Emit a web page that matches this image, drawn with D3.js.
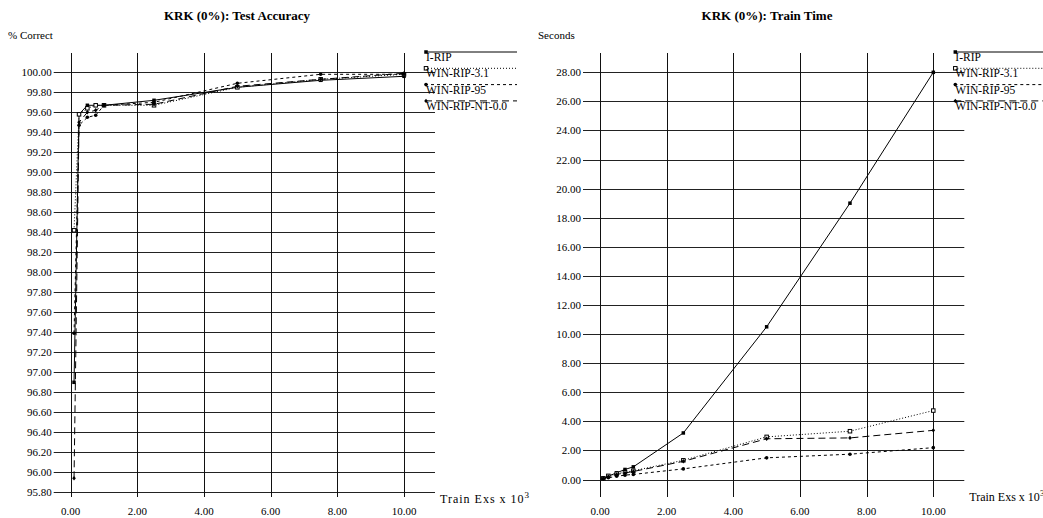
<!DOCTYPE html>
<html>
<head>
<meta charset="utf-8">
<script src="https://cdn.jsdelivr.net/npm/d3@7"></script>
<style>
  body { margin: 0; background: #fff; }
  svg text { font-family: "Liberation Serif", "Times New Roman", serif; fill: #000; }
</style>
</head>
<body>
<div id="chart"></div>
<script>
// training set sizes (x 10^3)
const trainSizes = [0.1, 0.25, 0.5, 0.75, 1.0, 2.5, 5.0, 7.5, 10.0];
const seriesNames = ["I-RIP", "WIN-RIP-3.1", "WIN-RIP-95", "WIN-RIP-NT-0.0"];

// % correct
const accIRip = [96.90, 99.58, 99.67, 99.67, 99.67, 99.72, 99.85, 99.92, 99.96];
const accWin31 = [98.42, 99.58, 99.64, 99.67, 99.67, 99.67, 99.85, 99.93, 99.98];
const accWin95 = [97.39, 99.47, 99.55, 99.57, 99.67, 99.70, 99.89, 99.98, 99.98];
const accWinNT = [95.94, 99.50, 99.60, 99.62, 99.67, 99.68, 99.86, 99.93, 99.99];

// train time in seconds
const timeIRip = [0.09, 0.23, 0.46, 0.69, 0.87, 3.20, 10.50, 19.00, 28.00];
const timeWin31 = [0.08, 0.25, 0.40, 0.50, 0.60, 1.32, 2.93, 3.32, 4.74];
const timeWin95 = [0.05, 0.12, 0.22, 0.30, 0.35, 0.73, 1.49, 1.74, 2.19];
const timeWinNT = [0.07, 0.20, 0.35, 0.45, 0.55, 1.25, 2.80, 2.86, 3.38];

const xTicks = [0, 2, 4, 6, 8, 10];
const accTicks = d3.range(0, 22).map(i => 95.8 + i * 0.2);
const timeTicks = d3.range(0, 15).map(i => i * 2);

const styles = [
  { dash: null, marker: "fsquare" },
  { dash: "1,2", marker: "osquare" },
  { dash: "3,3", marker: "circle" },
  { dash: "7,4", marker: "diamond" }
];

const svg = d3.select("#chart").append("svg")
  .attr("width", 1043)
  .attr("height", 518);

function drawMarker(g, type, x, y) {
  if (type === "fsquare") {
    g.append("rect").attr("x", x - 1.75).attr("y", y - 1.75).attr("width", 3.5).attr("height", 3.5).attr("fill", "#000");
  } else if (type === "osquare") {
    g.append("rect").attr("x", x - 1.75).attr("y", y - 1.75).attr("width", 3.5).attr("height", 3.5)
      .attr("fill", "#fff").attr("stroke", "#000").attr("stroke-width", 1);
  } else if (type === "circle") {
    g.append("circle").attr("cx", x).attr("cy", y).attr("r", 1.8).attr("fill", "#000");
  } else {
    g.append("path").attr("d", "M" + x + "," + (y - 2.2) + "L" + (x + 1.8) + "," + y + "L" + x + "," + (y + 2.2) + "L" + (x - 1.8) + "," + y + "Z")
      .attr("fill", "#000");
  }
}

function panel(opts) {
  const x = d3.scaleLinear().domain([0, 10]).range(opts.xRange);
  const y = d3.scaleLinear().domain(opts.yDomain).range(opts.yRange);
  const g = svg.append("g");
  const left = opts.xRange[0] - 17, right = opts.xRange[1] + 31;

  // title
  g.append("text")
    .attr("x", opts.titleX).attr("y", 20)
    .attr("text-anchor", "middle")
    .style("font-size", "13px").style("font-weight", "bold")
    .text(opts.title);

  g.append("text")
    .attr("x", opts.yLabelX).attr("y", 39)
    .style("font-size", "11px")
    .text(opts.yLabel);

  // horizontal grid + y labels
  g.selectAll(".hgrid").data(opts.yTicks).enter().append("line")
    .attr("x1", left).attr("x2", right)
    .attr("y1", d => Math.round(y(d)) + 0.5).attr("y2", d => Math.round(y(d)) + 0.5)
    .attr("stroke", "#222").attr("stroke-width", 1);
  g.selectAll(".ylab").data(opts.yTicks).enter().append("text")
    .attr("x", left - 2).attr("y", d => y(d) + 4)
    .attr("text-anchor", "end")
    .style("font-size", "11px")
    .text(d => d3.format(".2f")(d));

  // vertical grid + x labels
  g.selectAll(".vgrid").data(xTicks).enter().append("line")
    .attr("x1", d => Math.round(x(d)) + 0.5).attr("x2", d => Math.round(x(d)) + 0.5)
    .attr("y1", 53).attr("y2", 497)
    .attr("stroke", "#111").attr("stroke-width", 1);
  g.selectAll(".xlab").data(xTicks).enter().append("text")
    .attr("x", d => x(d)).attr("y", 515)
    .attr("text-anchor", "middle")
    .style("font-size", "11px")
    .text(d => d3.format(".2f")(d));

  const xt = g.append("text").attr("x", opts.xRange[1] + 36).attr("y", opts.unitY)
    .style("font-size", "12px").style("letter-spacing", opts.unitSpacing);
  xt.append("tspan").text("Train Exs x 10");
  xt.append("tspan").attr("dy", -5).style("font-size", "9px").text("3");

  // series
  const line = d3.line().x(d => x(d[0])).y(d => y(d[1]));
  opts.series.forEach((vals, i) => {
    const pts = trainSizes.map((t, j) => [t, vals[j]]);
    g.append("path").datum(pts)
      .attr("d", line)
      .attr("fill", "none").attr("stroke", "#000").attr("stroke-width", 1)
      .attr("stroke-dasharray", styles[i].dash);
    pts.forEach(p => drawMarker(g, styles[i].marker, x(p[0]), y(p[1])));
  });

  // legend
  const lx = opts.xRange[1] + 21;
  seriesNames.forEach((name, i) => {
    const ly = 52 + i * 16.3;
    g.append("line")
      .attr("x1", lx).attr("x2", lx + 92)
      .attr("y1", ly).attr("y2", ly)
      .attr("stroke", "#000").attr("stroke-width", 1)
      .attr("stroke-dasharray", styles[i].dash);
    drawMarker(g, styles[i].marker, lx + 1, ly);
    g.append("text").attr("x", lx + 1).attr("y", ly + 9)
      .style("font-size", "11.5px")
      .text(name);
  });
}

panel({
  title: "KRK (0%): Test Accuracy", titleX: 237,
  yLabel: "% Correct", yLabelX: 8,
  xRange: [70.7, 404], yDomain: [95.8, 100], yRange: [492.3, 72.3],
  yTicks: accTicks, unitY: 503, unitSpacing: "1px",
  series: [accIRip, accWin31, accWin95, accWinNT]
});

panel({
  title: "KRK (0%): Train Time", titleX: 767,
  yLabel: "Seconds", yLabelX: 538,
  xRange: [600, 933.3], yDomain: [0, 28], yRange: [479.5, 72.3],
  yTicks: timeTicks, unitY: 501, unitSpacing: "0px",
  series: [timeIRip, timeWin31, timeWin95, timeWinNT]
});
</script>
</body>
</html>
